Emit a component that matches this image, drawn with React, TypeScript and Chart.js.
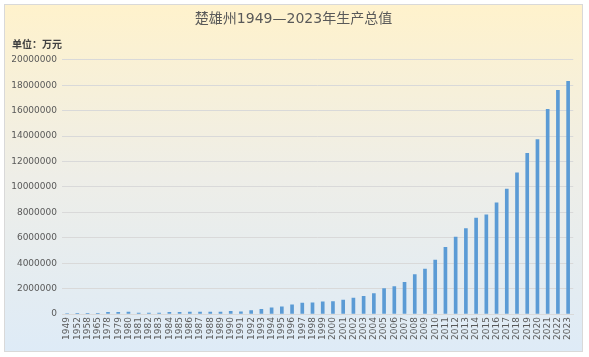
import React, { useEffect, useRef } from "react";
import { Chart, registerables } from "chart.js";

Chart.register(...registerables);

const TITLE = "楚雄州1949—2023年生产总值";
const UNIT_LABEL = "单位：万元";

const years: string[] = [
  "1949", "1952", "1958", "1965", "1978", "1979", "1980", "1981", "1982", "1983",
  "1984", "1985", "1986", "1987", "1988", "1989", "1990", "1991", "1992", "1993",
  "1994", "1995", "1996", "1997", "1998", "1999", "2000", "2001", "2002", "2003",
  "2004", "2005", "2006", "2007", "2008", "2009", "2010", "2011", "2012", "2013",
  "2014", "2015", "2016", "2017", "2018", "2019", "2020", "2021", "2022", "2023",
];

const gdpValues: number[] = [
  40000, 50000, 60000, 60000, 130000, 140000, 150000, 70000, 70000, 80000,
  130000, 140000, 150000, 160000, 160000, 160000, 210000, 170000, 260000, 370000,
  490000, 570000, 720000, 860000, 870000, 960000, 970000, 1100000, 1260000, 1390000,
  1600000, 2000000, 2150000, 2490000, 3100000, 3540000, 4250000, 5250000, 6060000, 6720000,
  7540000, 7800000, 8740000, 9820000, 11100000, 12650000, 13720000, 16100000, 17600000, 18300000,
];

const Y_MAX = 20000000;
const Y_STEP = 2000000;

export default function App() {
  const ref = useRef<HTMLCanvasElement | null>(null);

  useEffect(() => {
    document.body.style.margin = "0";
    const canvas = ref.current;
    if (!canvas) return;
    const chart = new Chart(canvas, {
      type: "bar",
      data: {
        labels: years,
        datasets: [
          {
            label: "生产总值",
            data: gdpValues,
            backgroundColor: "#5B9BD5",
            borderWidth: 0,
            barThickness: 3,
          },
        ],
      },
      options: {
        animation: false,
        responsive: false,
        maintainAspectRatio: false,
        layout: { padding: { left: 7, right: 7, top: 0, bottom: 0 } },
        plugins: {
          legend: { display: false },
          tooltip: { enabled: false },
          title: {
            display: true,
            text: TITLE,
            color: "#595959",
            font: { family: "'DejaVu Sans', 'Noto Sans CJK SC'", size: 14, weight: "normal" },
            padding: { top: 6, bottom: 8 },
          },
          subtitle: {
            display: true,
            text: UNIT_LABEL,
            align: "start",
            color: "#404040",
            font: { family: "'Noto Sans CJK SC'", size: 10, weight: "bold" },
            padding: { top: 2, bottom: 10 },
          },
        },
        scales: {
          x: {
            grid: { display: false, drawTicks: false },
            border: { display: true, color: "#d9d9d9" },
            ticks: {
              color: "#595959",
              font: { family: "'DejaVu Sans'", size: 9 },
              minRotation: 90,
              maxRotation: 90,
              autoSkip: false,
              padding: 3,
            },
            afterFit: (scale: any) => {
              scale.height = 37;
            },
          },
          y: {
            min: 0,
            max: Y_MAX,
            grid: { color: "#d9d9d9", drawTicks: false },
            border: { display: false },
            ticks: {
              stepSize: Y_STEP,
              color: "#595959",
              font: { family: "'DejaVu Sans'", size: 9 },
              padding: 5,
              callback: (v: any) => String(v),
            },
            afterFit: (scale: any) => {
              scale.width = 50;
            },
          },
        },
      },
    });
    return () => chart.destroy();
  }, []);

  return (
    <div
      style={{
        position: "absolute",
        left: 4,
        top: 4,
        width: 577,
        height: 346,
        border: "1px solid #d9d9d9",
        background: "linear-gradient(to bottom, #FFF2CC 0%, #EEEEE8 50%, #DEEBF7 100%)",
      }}
    >
      <canvas ref={ref} width={577} height={346} style={{ display: "block", width: 577, height: 346 }} />
    </div>
  );
}
